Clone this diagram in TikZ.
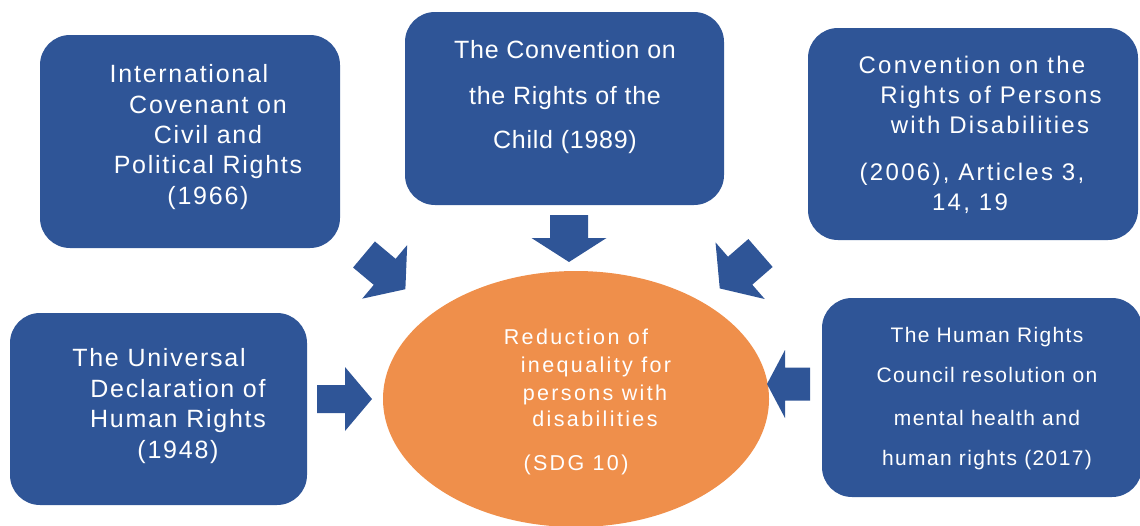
\documentclass[tikz,border=0pt]{standalone}
\usepackage{fontspec}
\setmainfont{Liberation Sans}
\newfontfamily\fA[LetterSpace=7]{Liberation Sans}
\newfontfamily\fB[LetterSpace=3]{Liberation Sans}
\newfontfamily\fC[LetterSpace=9.5]{Liberation Sans}
\newfontfamily\fE[LetterSpace=6.5]{Liberation Sans}
\newfontfamily\fO[LetterSpace=11]{Liberation Sans}
\usetikzlibrary{shapes.geometric}
\definecolor{boxblue}{HTML}{2F5597}
\definecolor{ellorange}{HTML}{EF8F4B}
\begin{document}
\begin{tikzpicture}[x=1pt,y=-1pt,
  box/.style={fill=boxblue, rounded corners=30pt, inner sep=0pt},
  goal/.style={ellipse, fill=ellorange, inner sep=0pt},
  ln/.style={text=white, anchor=base, inner sep=0pt},
  tA/.style={ln, font=\fA\fontsize{25}{30}\selectfont},
  tB/.style={ln, font=\fB\fontsize{25}{30}\selectfont},
  tC/.style={ln, font=\fC\fontsize{24}{29}\selectfont},
  tE/.style={ln, font=\fE\fontsize{21}{25}\selectfont},
  tO/.style={ln, font=\fO\fontsize{21.5}{26}\selectfont},
  pics/bigarrow/.style args={#1/#2/#3/#4}{code={
    \fill[boxblue] (0,-#1/2) -- (#2,-#1/2) -- (#2,-#3/2) -- (#2+#4,0)
      -- (#2,#3/2) -- (#2,#1/2) -- (0,#1/2) -- cycle;}}
]
\useasboundingbox (0,0) rectangle (1140,525);

% boxes
\node[box, minimum width=300pt, minimum height=213pt] (iccpr) at (190,141.5) {};
\node[box, minimum width=319pt, minimum height=193pt] (crc) at (564.5,108.5) {};
\node[box, minimum width=330pt, minimum height=212pt] (crpd) at (973,134) {};
\node[box, minimum width=297pt, minimum height=192pt] (udhr) at (158.5,409) {};
\node[box, minimum width=320pt, minimum height=199pt] (hrc) at (982,397.5) {};
\node[goal, minimum width=386pt, minimum height=256pt] (goal) at (576,399) {};

% arrows
\pic (a-crc) at (569,215) [rotate=-90] {bigarrow=38/23/75/24};
\pic (a-udhr) at (317,399) {bigarrow=28/28/64/27};
\pic (a-hrc) at (810,384) [rotate=180] {bigarrow=33/25/68/18};
\pic (a-iccpr) at (364,254.5) [rotate=-40] {bigarrow=34/27/70/27};
\pic (a-crpd) at (760.5,253) [rotate=-139] {bigarrow=37/27/75/27};

% texts: ICCPR
\node[tA] (iccpr-1) at (189,82) {International};
\node[tA] (iccpr-2) at (208,113) {Covenant on};
\node[tA] (iccpr-3) at (208,143) {Civil and};
\node[tA] (iccpr-4) at (208,173) {Political Rights};
\node[tA] (iccpr-5) at (208,204) {(1966)};
% CRC
\node[tB] (crc-1) at (565,58) {The Convention on};
\node[tB] (crc-2) at (565,104) {the Rights of the};
\node[tB] (crc-3) at (565,148) {Child (1989)};
% CRPD
\node[tC] (crpd-1) at (972,73) {Convention on the};
\node[tC] (crpd-2) at (991,103) {Rights of Persons};
\node[tC] (crpd-3) at (990,133) {with Disabilities};
\node[tC] (crpd-4) at (972,180) {(2006), Articles 3,};
\node[tC] (crpd-5) at (970,210) {14, 19};
% UDHR
\node[tA] (udhr-1) at (159,366) {The Universal};
\node[tA] (udhr-2) at (178,397) {Declaration of};
\node[tA] (udhr-3) at (178,427) {Human Rights};
\node[tA] (udhr-4) at (178,458) {(1948)};
% HRC
\node[tE] (hrc-1) at (987,342) {The Human Rights};
\node[tE] (hrc-2) at (987,382) {Council resolution on};
\node[tE] (hrc-3) at (987,425) {mental health and};
\node[tE] (hrc-4) at (987,465) {human rights (2017)};
% goal
\node[tO] (goal-1) at (576,344) {Reduction of};
\node[tO] (goal-2) at (596,372) {inequality for};
\node[tO] (goal-3) at (595,400) {persons with};
\node[tO] (goal-4) at (595,426) {disabilities};
\node[tO] (goal-5) at (576,470) {(SDG 10)};
\end{tikzpicture}
\end{document}
